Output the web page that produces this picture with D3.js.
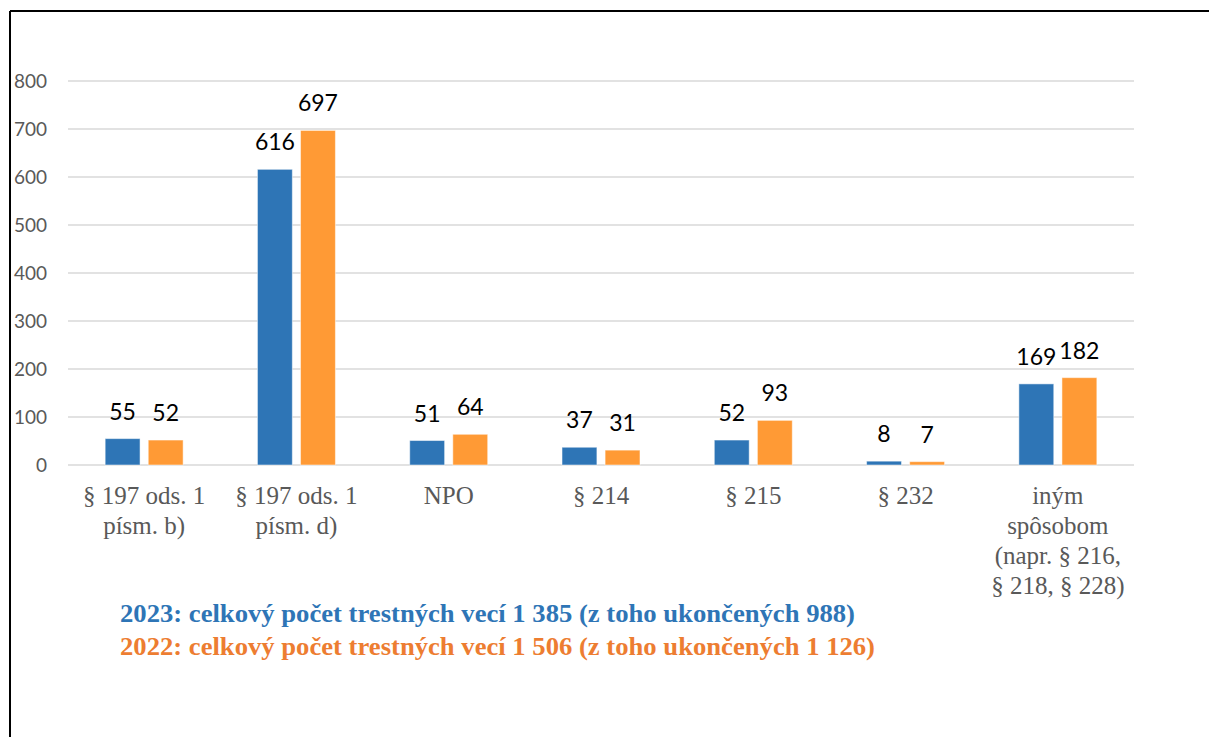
<!DOCTYPE html>
<html>
<head>
<meta charset="utf-8">
<script src="https://cdn.jsdelivr.net/npm/d3@7"></script>
<style>
  body { margin: 0; background: #fff; }
</style>
</head>
<body>
<div id="chart"></div>
<script>
const categories = [
  ['§ 197 ods. 1', 'písm. b)'],
  ['§ 197 ods. 1', 'písm. d)'],
  ['NPO'],
  ['§ 214'],
  ['§ 215'],
  ['§ 232'],
  ['iným', 'spôsobom', '(napr. § 216,', '§ 218, § 228)'],
]
const series = ['2023', '2022']
const values2023 = [55, 616, 51, 37, 52, 8, 169]
const values2022 = [52, 697, 64, 31, 93, 7, 182]
const yTicks = [0, 100, 200, 300, 400, 500, 600, 700, 800]
const legendLines = [
  '2023: celkový počet trestných vecí 1 385 (z toho ukončených 988)',
  '2022: celkový počet trestných vecí 1 506 (z toho ukončených 1 126)',
]

const WIDTH = 1209
const HEIGHT = 737
const colors = { '2023': '#2E75B6', '2022': '#FF9A35' }
const textColors = { '2023': '#2E75B6', '2022': '#ED7D31' }

const svg = d3.select('#chart').append('svg')
  .attr('width', WIDTH)
  .attr('height', HEIGHT)

// frame (left + top edges)
svg.append('line').attr('x1', 10).attr('y1', 11).attr('x2', WIDTH).attr('y2', 11)
  .attr('stroke', '#000').attr('stroke-width', 2)
svg.append('line').attr('x1', 10).attr('y1', 11).attr('x2', 10).attr('y2', HEIGHT)
  .attr('stroke', '#000').attr('stroke-width', 2)

const y = d3.scaleLinear().domain([0, 800]).range([465, 81])
const x0 = d3.scaleBand().domain(d3.range(categories.length)).range([68, 1134])
  .paddingInner(0.488).paddingOuter(0.244)
const x1 = d3.scaleBand().domain(series).range([0, x0.bandwidth()]).paddingInner(0.19)

// gridlines
svg.append('g').selectAll('line')
  .data(yTicks)
  .join('line')
  .attr('x1', 68)
  .attr('x2', 1134)
  .attr('y1', d => y(d))
  .attr('y2', d => y(d))
  .attr('stroke', '#D9D9D9')
  .attr('stroke-width', 1.5)

// y tick labels
svg.append('g').selectAll('text')
  .data(yTicks)
  .join('text')
  .attr('x', 47)
  .attr('y', d => y(d))
  .attr('dy', '0.35em')
  .attr('text-anchor', 'end')
  .style('font-family', 'Lato, "Open Sans", sans-serif')
  .style('font-size', '19px')
  .style('fill', '#595959')
  .text(d => d)

const rows = categories.map((c, i) => ({ i, '2023': values2023[i], '2022': values2022[i] }))

const groups = svg.append('g').selectAll('g')
  .data(rows)
  .join('g')
  .attr('transform', d => `translate(${x0(d.i)},0)`)

groups.selectAll('rect')
  .data(d => series.map(s => ({ s, v: d[s] })))
  .join('rect')
  .attr('x', d => x1(d.s))
  .attr('y', d => y(d.v))
  .attr('width', x1.bandwidth())
  .attr('height', d => y(0) - y(d.v))
  .attr('fill', d => colors[d.s])
  .attr('stroke', '#fff')
  .attr('stroke-opacity', 0.5)
  .attr('stroke-width', 1)

// data labels
groups.selectAll('text')
  .data(d => series.map(s => ({ s, v: d[s] })))
  .join('text')
  .attr('x', d => x1(d.s) + x1.bandwidth() / 2)
  .attr('y', d => y(d.v) - 19)
  .attr('text-anchor', 'middle')
  .style('font-family', 'Lato, "Open Sans", sans-serif')
  .style('font-size', '23px')
  .style('fill', '#000')
  .text(d => d.v)

// category labels
const catLabels = svg.append('g').selectAll('text')
  .data(categories)
  .join('text')
  .attr('x', (d, i) => x0(i) + x0.bandwidth() / 2)
  .attr('y', 504)
  .attr('text-anchor', 'middle')
  .style('font-family', '"Liberation Serif", "Times New Roman", serif')
  .style('font-size', '25px')
  .style('fill', '#595959')

catLabels.selectAll('tspan')
  .data(d => d)
  .join('tspan')
  .attr('x', function () { return d3.select(this.parentNode).attr('x') })
  .attr('dy', (d, i) => (i === 0 ? 0 : 30))
  .text(d => d)

// legend text
svg.append('g').selectAll('text')
  .data(legendLines)
  .join('text')
  .attr('x', 120)
  .attr('y', (d, i) => 622 + i * 33)
  .attr('textLength', (d, i) => (i === 0 ? 735 : 755))
  .attr('lengthAdjust', 'spacingAndGlyphs')
  .style('font-family', '"Liberation Serif", "Times New Roman", serif')
  .style('font-weight', 'bold')
  .style('font-size', '26px')
  .style('fill', (d, i) => textColors[series[i]])
  .text(d => d)
</script>
</body>
</html>
